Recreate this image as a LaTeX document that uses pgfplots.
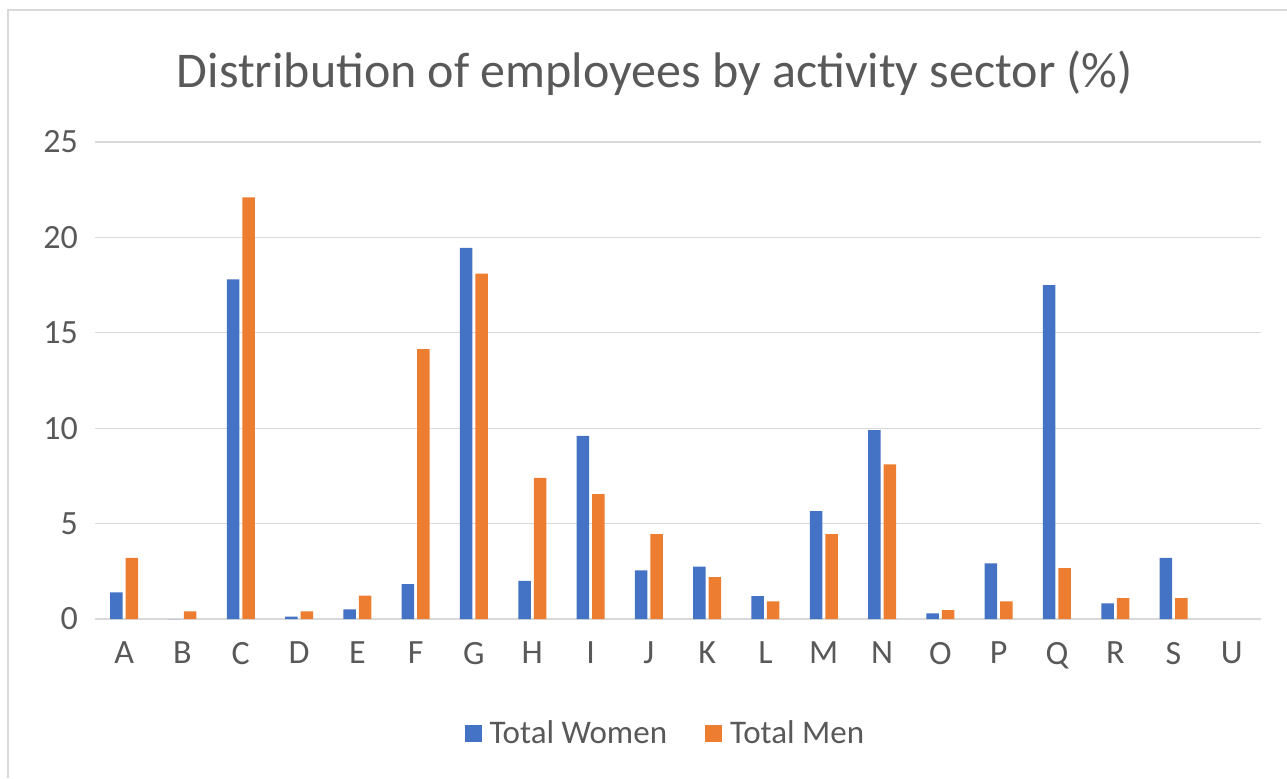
\documentclass[border=0pt]{standalone}
\usepackage{fontspec}
\setmainfont{Carlito}
\usepackage{pgfplots}
\pgfplotsset{compat=1.18}
\definecolor{cblue}{HTML}{4472C4}
\definecolor{corange}{HTML}{ED7D31}
\definecolor{cgrid}{HTML}{D9D9D9}
\definecolor{ctext}{HTML}{595959}

\pgfplotstableread{
x  women men
0  1.4   3.2
1  0.0   0.4
2  17.8  22.1
3  0.12  0.4
4  0.5   1.22
5  1.83  14.15
6  19.45 18.1
7  2.0   7.4
8  9.6   6.55
9  2.55  4.45
10 2.74  2.2
11 1.2   0.93
12 5.66  4.45
13 9.9   8.1
14 0.3   0.47
15 2.92  0.93
16 17.5  2.66
17 0.82  1.1
18 3.2   1.1
}\data

\begin{document}
\begin{tikzpicture}[x=0.5pt,y=0.5pt]
\useasboundingbox (0,0) rectangle (1287,778);
\draw[cgrid, line width=1pt] (8,0) -- (8,768) -- (1287,768);
\node[text=ctext, font=\fontsize{25}{30}\selectfont] at (655,705) {Distribution of employees by activity sector (\%)};
\begin{axis}[
    at={(95pt*0.5,159pt*0.5)}, anchor=south west,
    scale only axis,
    width=583pt, height=238.5pt,
    xmin=-0.5, xmax=19.5,
    ymin=0, ymax=25,
    ytick={0,5,...,25},
    xtick={0,...,19},
    xticklabels={A,B,C,D,E,F,G,H,I,J,K,L,M,N,O,P,Q,R,S,U},
    ybar=1.5pt,
    bar width=6.25pt,
    axis line style={draw=none},
    ymajorgrids,
    grid style={cgrid, line width=0.6pt},
    major tick length=0pt,
    tick label style={text=ctext, font=\fontsize{17}{20}\selectfont},
    /pgf/number format/assume math mode=true,
    yticklabel style={xshift=-5pt},
    xticklabel style={yshift=-8pt},
    legend style={at={(0.49,-0.24)}, anchor=center, draw=none,
        font=\fontsize{16.5}{20}\selectfont, text=ctext,
        legend columns=2,
        /tikz/every odd column/.append style={column sep=2pt},
        /tikz/every even column/.append style={column sep=17pt}},
    legend image code/.code={\fill[#1] (0pt,-4.25pt) rectangle (8.5pt,4.25pt);},
]
\draw[cgrid, line width=1.2pt] (axis cs:-0.5,0) -- (axis cs:19.5,0);
\addplot[fill=cblue, draw=none] table[x=x, y=women] {\data};
\addplot[fill=corange, draw=none] table[x=x, y=men] {\data};
\legend{Total Women, Total Men}
\end{axis}
\end{tikzpicture}
\end{document}
